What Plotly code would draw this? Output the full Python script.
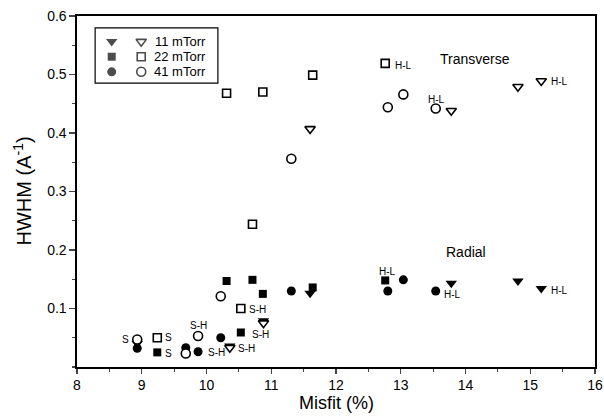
import plotly.graph_objects as go

# ---- data -------------------------------------------------------------
mis_11 = [8.93, 10.36, 10.88, 11.60, 13.78, 14.81, 15.17]
rad_11 = [0.040, 0.036, 0.079, 0.126, 0.143, 0.147, 0.134]
trans_11 = [None, 0.033, 0.075, 0.407, 0.438, 0.479, 0.489]

mis_22 = [9.24, 10.31, 10.53, 10.71, 10.87, 11.64, 12.76]
rad_22 = [0.025, 0.147, 0.059, 0.149, 0.125, 0.136, 0.148]
trans_22 = [0.050, 0.468, 0.100, 0.244, 0.470, 0.499, 0.519]

mis_41 = [8.93, 9.68, 9.87, 10.22, 11.31, 12.80, 13.04, 13.54]
rad_41 = [0.032, 0.033, 0.026, 0.050, 0.130, 0.130, 0.149, 0.130]
trans_41 = [0.047, 0.023, 0.053, 0.121, 0.356, 0.444, 0.466, 0.442]

legend_names = ["11 mTorr", "22 mTorr", "41 mTorr"]
x_ticks = [8, 9, 10, 11, 12, 13, 14, 15, 16]
y_ticks = [0.1, 0.2, 0.3, 0.4, 0.5, 0.6]

# point labels: (series, index, text, xshift, yshift, xanchor)
point_labels = [
    ("t41", 0, "S", -6, 0, "right"),
    ("t22", 0, "S", 6, 0, "left"),
    ("r22", 0, "S", 6, -1, "left"),
    ("t41", 2, "S-H", 0, 11, "center"),
    ("r41", 2, "S-H", 8, -1, "left"),
    ("t11", 1, "S-H", 6, -1, "left"),
    ("r22", 2, "S-H", 9, -2, "left"),
    ("t22", 2, "S-H", 6, -1, "left"),
    ("t22", 6, "H-L", 8, -2, "left"),
    ("t41", 7, "H-L", 1, 9, "center"),
    ("t11", 6, "H-L", 8, -1, "left"),
    ("r22", 6, "H-L", 2, 9, "center"),
    ("r41", 7, "H-L", 6, -4, "left"),
    ("r11", 6, "H-L", 8, -2, "left"),
]

FONT = "Liberation Sans, Arial, sans-serif"
series = {
    "r11": (mis_11, rad_11), "t11": (mis_11, trans_11),
    "r22": (mis_22, rad_22), "t22": (mis_22, trans_22),
    "r41": (mis_41, rad_41), "t41": (mis_41, trans_41),
}

fig = go.Figure()

def add(xs, ys, symbol, size, open_):
    fig.add_trace(go.Scatter(
        x=xs, y=ys, mode="markers", showlegend=False, hoverinfo="skip",
        marker=dict(symbol=symbol, size=size,
                    color="white" if open_ else "black",
                    line=dict(color="black", width=1.6 if open_ else 0)),
    ))

# filled (radial) first, then open (transverse) on top
add(mis_11, rad_11, "triangle-down", 10, False)
add(mis_22, rad_22, "square", 8, False)
add(mis_41, rad_41, "circle", 9, False)
add(mis_11, trans_11, "triangle-down", 9, True)
add(mis_22, trans_22, "square", 8, True)
add(mis_41, trans_41, "circle", 9, True)

# legend markers on hidden overlay axes
leg_rows = [0.927, 0.884, 0.841]
fig.add_trace(go.Scatter(
    x=[0.067] * 3, y=leg_rows, xaxis="x2", yaxis="y2", mode="markers",
    showlegend=False, hoverinfo="skip",
    marker=dict(symbol=["triangle-down", "square", "circle"], size=[10, 8, 9],
                color="black", line=dict(width=0)),
))
fig.add_trace(go.Scatter(
    x=[0.124] * 3, y=leg_rows, xaxis="x2", yaxis="y2", mode="markers",
    showlegend=False, hoverinfo="skip",
    marker=dict(symbol=["triangle-down", "square", "circle"], size=[9, 8, 9],
                color="white", line=dict(color="black", width=1.6)),
))

annotations = []
for name, yv in zip(legend_names, leg_rows):
    annotations.append(dict(x=0.252, y=yv, xref="paper", yref="paper", text=name,
                            showarrow=False, xanchor="right", yanchor="middle",
                            font=dict(family=FONT, size=13, color="black")))

for key, i, txt, dx, dy, xa in point_labels:
    xs, ys = series[key]
    annotations.append(dict(x=xs[i], y=ys[i], text=txt, showarrow=False,
                            xanchor=xa, yanchor="middle", xshift=dx, yshift=dy,
                            font=dict(family=FONT, size=10, color="black")))

annotations.append(dict(x=14.15, y=0.527, text="Transverse", showarrow=False,
                        font=dict(family=FONT, size=14, color="black")))
annotations.append(dict(x=14.0, y=0.197, text="Radial", showarrow=False,
                        font=dict(family=FONT, size=14, color="black")))

# axis titles placed as paper annotations
annotations.append(dict(x=0.5, y=0, xref="paper", yref="paper", yshift=-36,
                        text="Misfit (%)", showarrow=False, xanchor="center",
                        yanchor="middle",
                        font=dict(family=FONT, size=18, color="black")))
annotations.append(dict(x=0, y=0.5, xref="paper", yref="paper", xshift=-55,
                        text="HWHM (A<sup>-1</sup>)", showarrow=False, textangle=-90,
                        xanchor="center", yanchor="middle",
                        font=dict(family=FONT, size=20, color="black")))

fig.update_layout(
    width=604, height=417,
    margin=dict(l=77, r=9, t=16, b=50),
    paper_bgcolor="white", plot_bgcolor="white",
    font=dict(family=FONT, color="black"),
    annotations=annotations,
    shapes=[dict(type="rect", xref="paper", yref="paper",
                 x0=0.035, x1=0.272, y0=0.809, y1=0.966,
                 line=dict(color="black", width=1.2))],
    xaxis=dict(range=[8, 16], tickvals=x_ticks, ticks="outside", ticklen=5,
               tickwidth=1.3, showline=True, linecolor="black", linewidth=1.6,
               mirror=True, showgrid=False, zeroline=False, automargin=False,
               tickfont=dict(size=14),
               minor=dict(dtick=0.5, tick0=8, ticks="outside", ticklen=3,
                          tickwidth=1.2, showgrid=False)),
    yaxis=dict(range=[0, 0.6], tickvals=y_ticks, ticks="outside", ticklen=6,
               tickwidth=1.3, showline=True, linecolor="black", linewidth=1.6,
               mirror=True, showgrid=False, zeroline=False, automargin=False,
               tickfont=dict(size=14),
               minor=dict(dtick=0.05, tick0=0, ticks="outside", ticklen=3,
                          tickwidth=1.2, showgrid=False)),
    xaxis2=dict(range=[0, 1], overlaying="x", visible=False),
    yaxis2=dict(range=[0, 1], overlaying="y", visible=False),
)

# remove the browser's default 8px body margin so the figure sits at (0, 0)
fig.write_html(
    "out.html",
    config={"displayModeBar": False, "staticPlot": True},
    post_script="document.body.style.margin='0';document.body.style.padding='0';",
)
